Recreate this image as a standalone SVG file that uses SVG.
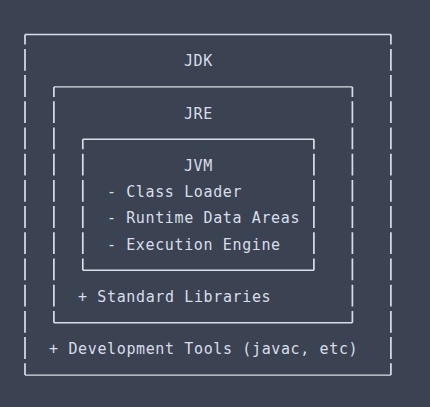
<svg xmlns="http://www.w3.org/2000/svg" width="430" height="407" viewBox="0 0 430 407">
  <style>
    .bg { fill: #3b4252; }
    .h { stroke: #d8dee9; stroke-width: 1.4; fill: none; }
    .v { stroke: #d8dee9; stroke-width: 1.7; fill: none; stroke-dasharray: 21.8 4.4; stroke-dashoffset: 11.8; }
    .t { font-family: "DejaVu Sans Mono", "Liberation Mono", monospace; font-size: 15px; letter-spacing: 0.63px; fill: #d8dee9; white-space: pre; }
  </style>
  <rect class="bg" x="0" y="0" width="430" height="407"/>
  <g id="jdk">
    <line class="h" x1="25" y1="34.5" x2="390.9" y2="34.5"/>
    <line class="h" x1="25" y1="375.1" x2="390.9" y2="375.1"/>
    <line class="v" x1="25" y1="34.5" x2="25" y2="375.1"/>
    <line class="v" x1="390.9" y1="34.5" x2="390.9" y2="375.1"/>
    <text class="t" x="183.9" y="66.2">JDK</text>
    <text class="t" x="49.1" y="354.4">+ Development Tools (javac, etc)</text>
  </g>
  <g id="jre">
    <line class="h" x1="53.9" y1="86.9" x2="352.4" y2="86.9"/>
    <line class="h" x1="53.9" y1="322.7" x2="352.4" y2="322.7"/>
    <line class="v" x1="53.9" y1="86.9" x2="53.9" y2="322.7"/>
    <line class="v" x1="352.4" y1="86.9" x2="352.4" y2="322.7"/>
    <text class="t" x="183.9" y="118.6">JRE</text>
    <text class="t" x="78" y="302">+ Standard Libraries</text>
  </g>
  <g id="jvm">
    <line class="h" x1="82.8" y1="139.3" x2="313.9" y2="139.3"/>
    <line class="h" x1="82.8" y1="270.3" x2="313.9" y2="270.3"/>
    <line class="v" x1="82.8" y1="139.3" x2="82.8" y2="270.3"/>
    <line class="v" x1="313.9" y1="139.3" x2="313.9" y2="270.3"/>
    <text class="t" x="183.9" y="171">JVM</text>
    <text class="t" x="106.9" y="197.2">- Class Loader</text>
    <text class="t" x="106.9" y="223.4">- Runtime Data Areas</text>
    <text class="t" x="106.9" y="249.6">- Execution Engine</text>
  </g>
</svg>
